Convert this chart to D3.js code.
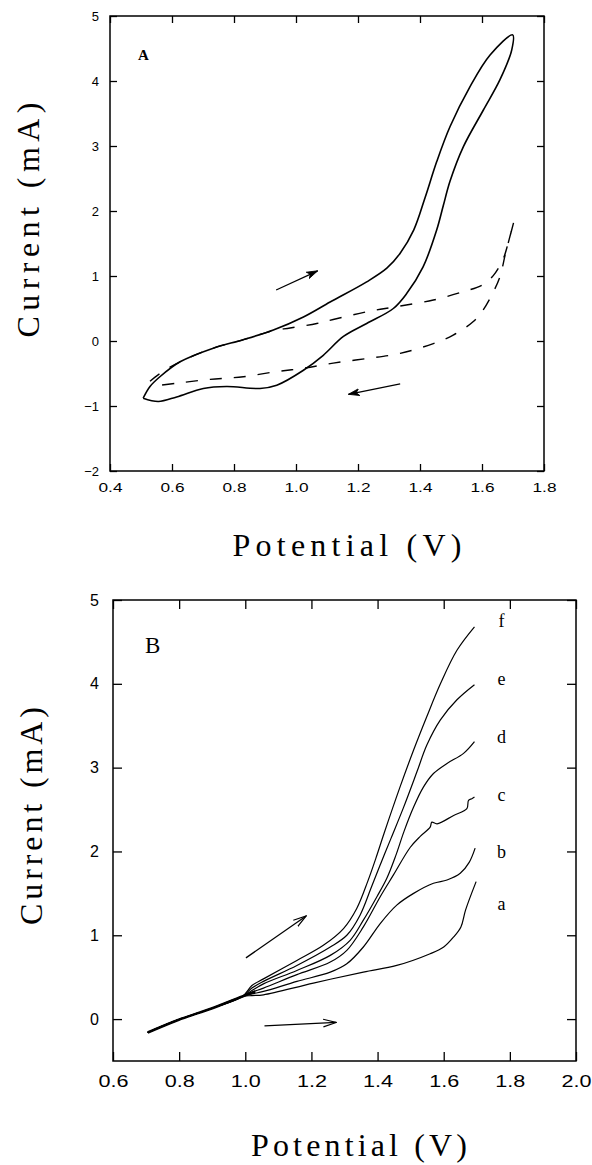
<!DOCTYPE html>
<html>
<head>
<meta charset="utf-8">
<script src="https://cdn.jsdelivr.net/npm/d3@7/dist/d3.min.js"></script>
<style>
  body { margin: 0; background: #fff; }
  svg { display: block; }
</style>
</head>
<body>
<svg id="chart" width="592" height="1165"></svg>
<script>
// ---- panel A : cyclic voltammograms ----
var ticksXA = [0.4, 0.6, 0.8, 1.0, 1.2, 1.4, 1.6, 1.8];
var ticksYA = [-2, -1, 0, 1, 2, 3, 4, 5];

// solid loop [V, mA]
var solidA = [
  [0.507, -0.88], [0.529, -0.70], [0.561, -0.55], [0.626, -0.32], [0.733, -0.11],
  [0.83, 0.02], [0.927, 0.17], [1.024, 0.37], [1.11, 0.60], [1.228, 0.91],
  [1.293, 1.12], [1.336, 1.35], [1.38, 1.71], [1.416, 2.20], [1.454, 2.76],
  [1.497, 3.30], [1.561, 3.91], [1.626, 4.40], [1.699, 4.71],
  [1.696, 4.48], [1.658, 4.02], [1.604, 3.55], [1.54, 2.99], [1.497, 2.46],
  [1.475, 2.08], [1.454, 1.71], [1.41, 1.14], [1.357, 0.73], [1.314, 0.50],
  [1.228, 0.27], [1.153, 0.07], [1.088, -0.22], [1.024, -0.45], [0.938, -0.68],
  [0.884, -0.73], [0.776, -0.70], [0.701, -0.73], [0.615, -0.86], [0.556, -0.93],
  [0.507, -0.88]
];

// dashed loop [V, mA]
var dashedA = [
  [0.529, -0.62], [0.561, -0.50], [0.626, -0.32], [0.733, -0.11], [0.83, 0.02],
  [0.927, 0.16], [0.981, 0.20], [1.067, 0.27], [1.12, 0.33], [1.228, 0.45],
  [1.325, 0.53], [1.443, 0.63], [1.54, 0.76], [1.60, 0.86], [1.637, 1.01],
  [1.669, 1.27], [1.684, 1.50], [1.703, 1.84],
  [1.676, 1.35], [1.658, 0.99], [1.637, 0.76], [1.604, 0.48], [1.572, 0.30],
  [1.507, 0.09], [1.443, -0.04], [1.336, -0.19], [1.228, -0.27], [1.12, -0.34],
  [1.024, -0.42], [0.938, -0.47], [0.83, -0.55], [0.723, -0.59], [0.615, -0.65],
  [0.529, -0.70]
];

var arrowsA = [
  [[0.936, 0.785], [1.07, 1.08]],
  [[1.336, -0.66], [1.169, -0.82]]
];

// ---- panel B : anodic scans a-f ----
var ticksXB = [0.6, 0.8, 1.0, 1.2, 1.4, 1.6, 1.8, 2.0];
var ticksYB = [0, 1, 2, 3, 4, 5];

var trunkB = [[0.705, -0.16], [0.797, -0.01], [0.90, 0.13], [0.991, 0.27]];

var curveA = [[1.02, 0.28], [1.055, 0.29], [1.206, 0.43], [1.357, 0.56], [1.458, 0.64],
  [1.559, 0.78], [1.60, 0.86], [1.63, 0.98], [1.652, 1.10], [1.666, 1.30], [1.698, 1.64]];
var curveB = [[1.02, 0.30], [1.055, 0.33], [1.156, 0.45], [1.257, 0.56], [1.307, 0.66],
  [1.357, 0.86], [1.408, 1.14], [1.458, 1.36], [1.509, 1.50], [1.569, 1.62], [1.61, 1.66],
  [1.65, 1.74], [1.677, 1.87], [1.695, 2.04]];
var curveC = [[1.02, 0.32], [1.055, 0.37], [1.156, 0.53], [1.257, 0.68], [1.307, 0.82],
  [1.357, 1.10], [1.408, 1.46], [1.448, 1.72], [1.499, 2.05], [1.529, 2.18], [1.559, 2.29],
  [1.564, 2.35], [1.58, 2.33], [1.63, 2.43], [1.670, 2.51], [1.675, 2.61], [1.685, 2.63],
  [1.693, 2.65]];
var curveD = [[1.02, 0.34], [1.055, 0.42], [1.156, 0.58], [1.257, 0.76], [1.317, 0.94],
  [1.357, 1.18], [1.398, 1.46], [1.428, 1.68], [1.455, 1.95], [1.48, 2.24],
  [1.509, 2.53], [1.539, 2.77], [1.569, 2.93], [1.61, 3.05], [1.66, 3.17], [1.693, 3.31]];
var curveE = [[1.02, 0.37], [1.055, 0.45], [1.156, 0.64], [1.257, 0.86], [1.307, 1.0],
  [1.347, 1.24], [1.38, 1.56], [1.41, 1.86], [1.44, 2.15], [1.478, 2.52], [1.519, 2.95],
  [1.549, 3.27], [1.59, 3.57], [1.64, 3.81], [1.693, 3.99]];
var curveF = [[1.02, 0.40], [1.055, 0.48], [1.156, 0.70], [1.236, 0.88], [1.297, 1.08],
  [1.337, 1.32], [1.37, 1.64], [1.395, 1.92], [1.42, 2.22], [1.468, 2.77],
  [1.509, 3.21], [1.549, 3.61], [1.59, 4.0], [1.64, 4.40], [1.693, 4.68]];

var curvesB = [curveA, curveB, curveC, curveD, curveE, curveF];
var namesB = ["a", "b", "c", "d", "e", "f"];
var labelYB = [1.30, 1.92, 2.60, 3.29, 3.99, 4.68];
var labelXB = 1.775;

var arrowsB = [
  [[1.002, 0.73], [1.184, 1.23]],
  [[1.058, -0.08], [1.275, -0.04]]
];

var svg = d3.select("#chart");

var defs = svg.append("defs");
defs.append("marker")
  .attr("id", "headOpen")
  .attr("viewBox", "0 0 14 10")
  .attr("refX", 13).attr("refY", 5)
  .attr("markerWidth", 14).attr("markerHeight", 10)
  .attr("markerUnits", "userSpaceOnUse")
  .attr("orient", "auto")
  .append("path")
  .attr("d", "M0,1.2 L13,5 L0,8.8")
  .attr("fill", "none").attr("stroke", "#000").attr("stroke-width", 1.2);
defs.append("marker")
  .attr("id", "headFill")
  .attr("viewBox", "0 0 12 10")
  .attr("refX", 11).attr("refY", 5)
  .attr("markerWidth", 12).attr("markerHeight", 10)
  .attr("markerUnits", "userSpaceOnUse")
  .attr("orient", "auto")
  .append("path")
  .attr("d", "M0,1.5 L11,5 L0,8.5 L3,5 Z")
  .attr("fill", "#000").attr("stroke", "#000").attr("stroke-width", 0.8);

function drawAxes(g, x, y, xt, yt, tickLen, fs, xPad, yPad, xLabW) {
  var fmt = d3.format(".1f");
  var bottom = g.append("g")
    .attr("transform", "translate(0," + y.range()[0] + ")")
    .call(d3.axisBottom(x).tickValues(xt).tickSize(-tickLen).tickPadding(xPad).tickFormat(fmt));
  var left = g.append("g")
    .attr("transform", "translate(" + x.range()[0] + ",0)")
    .call(d3.axisLeft(y).tickValues(yt).tickSize(-tickLen).tickPadding(yPad).tickFormat(d3.format("d")));
  var top = g.append("g")
    .attr("transform", "translate(0," + y.range()[1] + ")")
    .call(d3.axisTop(x).tickValues(xt).tickSize(-tickLen).tickFormat(""));
  var right = g.append("g")
    .attr("transform", "translate(" + x.range()[1] + ",0)")
    .call(d3.axisRight(y).tickValues(yt).tickSize(-tickLen).tickFormat(""));
  [bottom, left, top, right].forEach(function(a) {
    a.select(".domain").remove();
    a.selectAll("line").attr("stroke", "#000").attr("stroke-width", 1.3);
    a.selectAll("text")
      .attr("fill", "#000")
      .style("font-family", "'Liberation Sans', Arial, sans-serif")
      .style("font-size", fs + "px");
  });
  bottom.selectAll("text")
    .attr("textLength", xLabW)
    .attr("lengthAdjust", "spacingAndGlyphs");

  g.append("rect")
    .attr("x", x.range()[0]).attr("y", y.range()[1])
    .attr("width", x.range()[1] - x.range()[0])
    .attr("height", y.range()[0] - y.range()[1])
    .attr("fill", "none").attr("stroke", "#000").attr("stroke-width", 1.5);
}

function axisTitles(g, xTitle, xw, yTitle, yw) {
  g.append("text")
    .attr("x", xTitle.x).attr("y", xTitle.y)
    .attr("text-anchor", "middle")
    .attr("textLength", xw).attr("lengthAdjust", "spacing")
    .style("font-family", "'Liberation Serif', 'Times New Roman', serif")
    .style("font-size", "32px")
    .text("Potential (V)");
  g.append("text")
    .attr("transform", "translate(" + yTitle.x + "," + yTitle.y + ") rotate(-90)")
    .attr("text-anchor", "middle")
    .attr("textLength", yw).attr("lengthAdjust", "spacing")
    .style("font-family", "'Liberation Serif', 'Times New Roman', serif")
    .style("font-size", "32px")
    .text("Current (mA)");
}

// ---------------- panel A ----------------
var xA = d3.scaleLinear().domain([0.4, 1.8]).range([110, 544]);
var yA = d3.scaleLinear().domain([-2, 5]).range([471, 16]);
var gA = svg.append("g");
drawAxes(gA, xA, yA, ticksXA, ticksYA, 7, 13, 12, 11, 24);

var lineA = d3.line()
  .x(function(d) { return xA(d[0]); })
  .y(function(d) { return yA(d[1]); })
  .curve(d3.curveCatmullRom.alpha(0.5));

gA.append("path").datum(dashedA)
  .attr("d", lineA)
  .attr("fill", "none").attr("stroke", "#000").attr("stroke-width", 1.4)
  .attr("stroke-dasharray", "12,12");
gA.append("path").datum(solidA)
  .attr("d", lineA)
  .attr("fill", "none").attr("stroke", "#000").attr("stroke-width", 1.6);

arrowsA.forEach(function(a) {
  gA.append("line")
    .attr("x1", xA(a[0][0])).attr("y1", yA(a[0][1]))
    .attr("x2", xA(a[1][0])).attr("y2", yA(a[1][1]))
    .attr("stroke", "#000").attr("stroke-width", 1.3)
    .attr("marker-end", "url(#headFill)");
});

gA.append("text")
  .attr("x", 138).attr("y", 60)
  .style("font-family", "'Liberation Serif', 'Times New Roman', serif")
  .style("font-weight", "bold").style("font-size", "15px")
  .text("A");

axisTitles(gA, { x: 347, y: 556 }, 229, { x: 39, y: 220 }, 235);

// ---------------- panel B ----------------
var xB = d3.scaleLinear().domain([0.6, 2.0]).range([113, 576]);
var yB = d3.scaleLinear().domain([-0.5, 5]).range([1061, 600]);
var gB = svg.append("g");
drawAxes(gB, xB, yB, ticksXB, ticksYB, 9, 16, 15, 14, 30);

var lineB = d3.line()
  .x(function(d) { return xB(d[0]); })
  .y(function(d) { return yB(d[1]); })
  .curve(d3.curveCatmullRom.alpha(0.5));

curvesB.forEach(function(c) {
  gB.append("path").datum(trunkB.concat(c))
    .attr("d", lineB)
    .attr("fill", "none").attr("stroke", "#000").attr("stroke-width", 1.2);
});
gB.append("path").datum(trunkB.concat([[1.03, 0.33]]))
  .attr("d", lineB)
  .attr("fill", "none").attr("stroke", "#000").attr("stroke-width", 2.6);

namesB.forEach(function(n, i) {
  gB.append("text")
    .attr("x", xB(labelXB)).attr("y", yB(labelYB[i]))
    .attr("text-anchor", "middle")
    .style("font-family", "'Liberation Serif', 'Times New Roman', serif")
    .style("font-size", "18px")
    .text(n);
});

arrowsB.forEach(function(a) {
  gB.append("line")
    .attr("x1", xB(a[0][0])).attr("y1", yB(a[0][1]))
    .attr("x2", xB(a[1][0])).attr("y2", yB(a[1][1]))
    .attr("stroke", "#000").attr("stroke-width", 1.3)
    .attr("marker-end", "url(#headOpen)");
});

gB.append("text")
  .attr("x", 145).attr("y", 653)
  .style("font-family", "'Liberation Serif', 'Times New Roman', serif")
  .style("font-size", "23px")
  .text("B");

axisTitles(gB, { x: 359, y: 1156 }, 216, { x: 42, y: 816 }, 218);
</script>
</body>
</html>
